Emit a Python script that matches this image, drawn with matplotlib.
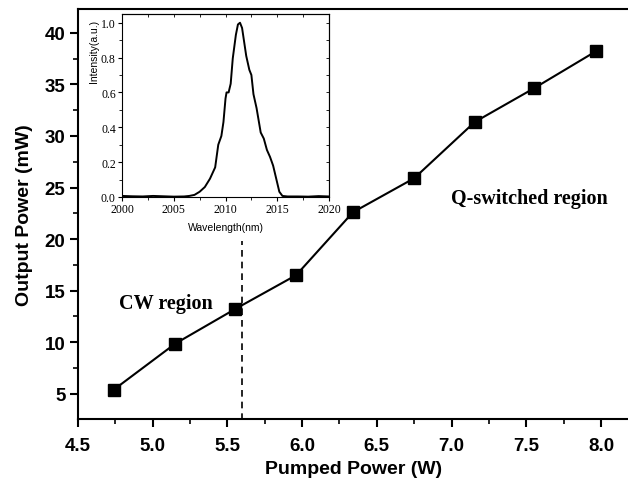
import numpy as np
import matplotlib
matplotlib.use("Agg")
import matplotlib.pyplot as plt
from matplotlib.ticker import MultipleLocator, FormatStrFormatter

# main curve: output power vs pump power
pump_w = [4.74, 5.15, 5.55, 5.96, 6.34, 6.75, 7.155, 7.555, 7.965]
output_mw = [5.4, 9.85, 13.2, 16.5, 22.6, 25.9, 31.35, 34.65, 38.2]

# inset spectrum
wl_nm = [2000, 2001, 2002, 2003, 2004, 2005, 2006, 2006.5, 2007, 2007.5, 2008,
         2008.5, 2009, 2009.3, 2009.6, 2009.8, 2010, 2010.1, 2010.3, 2010.5,
         2010.7, 2011, 2011.2, 2011.4, 2011.6, 2011.8, 2012, 2012.3, 2012.5,
         2012.7, 2013, 2013.4, 2013.7, 2014, 2014.3, 2014.6, 2014.9, 2015.2,
         2015.5, 2016, 2017, 2018, 2019, 2020]
intensity = [0.006, 0.004, 0.003, 0.006, 0.004, 0.002, 0.003, 0.006, 0.012, 0.03,
             0.057, 0.105, 0.17, 0.3, 0.35, 0.43, 0.565, 0.6, 0.6, 0.65,
             0.795, 0.93, 0.99, 1.0, 0.97, 0.89, 0.81, 0.73, 0.70,
             0.59, 0.51, 0.37, 0.335, 0.27, 0.23, 0.18, 0.105, 0.03,
             0.006, 0.003, 0.003, 0.002, 0.005, 0.003]

threshold_w = 5.6

sans = ["Liberation Sans", "DejaVu Sans"]
serif = ["Liberation Serif", "DejaVu Serif"]

fig = plt.figure(figsize=(6.28, 4.81), dpi=100)
ax = fig.add_axes([0.1242, 0.1268, 0.878, 0.8522])

ax.plot(pump_w, output_mw, color="black", lw=1.5, marker="s", ms=9,
        markerfacecolor="black", markeredgecolor="black")
ax.plot([threshold_w, threshold_w], [2.5, 19.8], color="black", lw=1.2, ls=(0, (4, 3)))

ax.set_xlim(4.5, 8.19)
ax.set_ylim(2.55, 42.3)
ax.xaxis.set_major_locator(MultipleLocator(0.5))
ax.xaxis.set_minor_locator(MultipleLocator(0.25))
ax.yaxis.set_major_locator(MultipleLocator(5))
ax.yaxis.set_minor_locator(MultipleLocator(2.5))
ax.xaxis.set_major_formatter(FormatStrFormatter("%.1f"))
ax.spines["right"].set_visible(False)
for s in ["left", "bottom", "top"]:
    ax.spines[s].set_linewidth(1.5)
ax.tick_params(which="major", direction="out", length=6, width=1.5)
ax.tick_params(axis="x", which="major", pad=7)
ax.tick_params(axis="y", which="major", pad=3)
ax.tick_params(which="minor", direction="out", length=3.5, width=1.2)
ax.tick_params(top=False)
plt.setp(ax.get_xticklabels() + ax.get_yticklabels(), family=sans,
         fontweight="bold", fontsize=13.5)
ax.set_xlabel("Pumped Power (W)", family=sans, fontweight="bold", fontsize=14)
ax.set_ylabel("Output Power (mW)", family=sans, fontweight="bold", fontsize=14)
ax.xaxis.set_label_coords(0.5, -0.1)
ax.yaxis.set_label_coords(-0.082, 0.5)

ax.text(5.09, 13.8, "CW region", family=serif, fontweight="bold", fontsize=14.5,
        ha="center", va="center")
ax.text(7.52, 24.0, "Q-switched region", family=serif, fontweight="bold", fontsize=14.5,
        ha="center", va="center")

# inset
ins = fig.add_axes([0.1943, 0.5884, 0.3296, 0.3804])
ins.plot(wl_nm, intensity, color="black", lw=1.4)
ins.set_xlim(2000, 2020)
ins.set_ylim(0, 1.05)
ins.xaxis.set_major_locator(MultipleLocator(5))
ins.xaxis.set_minor_locator(MultipleLocator(2.5))
ins.yaxis.set_major_locator(MultipleLocator(0.2))
ins.yaxis.set_minor_locator(MultipleLocator(0.1))
ins.yaxis.set_major_formatter(FormatStrFormatter("%.1f"))
ins.tick_params(which="both", direction="out", pad=1.5)
ins.tick_params(which="major", length=3, width=0.8)
ins.tick_params(which="minor", length=2, width=0.6)
plt.setp(ins.get_xticklabels() + ins.get_yticklabels(), family=serif, fontsize=8.5)
for s in ins.spines.values():
    s.set_linewidth(0.8)
# mirrored ticks pointing inward on the top and right
ins_top = ins.secondary_xaxis("top")
ins_top.xaxis.set_major_locator(MultipleLocator(5))
ins_top.xaxis.set_minor_locator(MultipleLocator(2.5))
ins_top.tick_params(which="both", direction="in", labeltop=False, width=0.6, length=2)
ins_right = ins.secondary_yaxis("right")
ins_right.yaxis.set_major_locator(MultipleLocator(0.2))
ins_right.yaxis.set_minor_locator(MultipleLocator(0.1))
ins_right.tick_params(which="both", direction="in", labelright=False, width=0.6, length=2)
ins.set_xlabel("Wavelength(nm)", family=sans, fontsize=7.5, labelpad=5)
ins.set_ylabel("Intensity(a.u.)", family=sans, fontsize=7.5)
ins.yaxis.set_label_coords(-0.11, 0.8)

fig.savefig("out.png", dpi=100)
